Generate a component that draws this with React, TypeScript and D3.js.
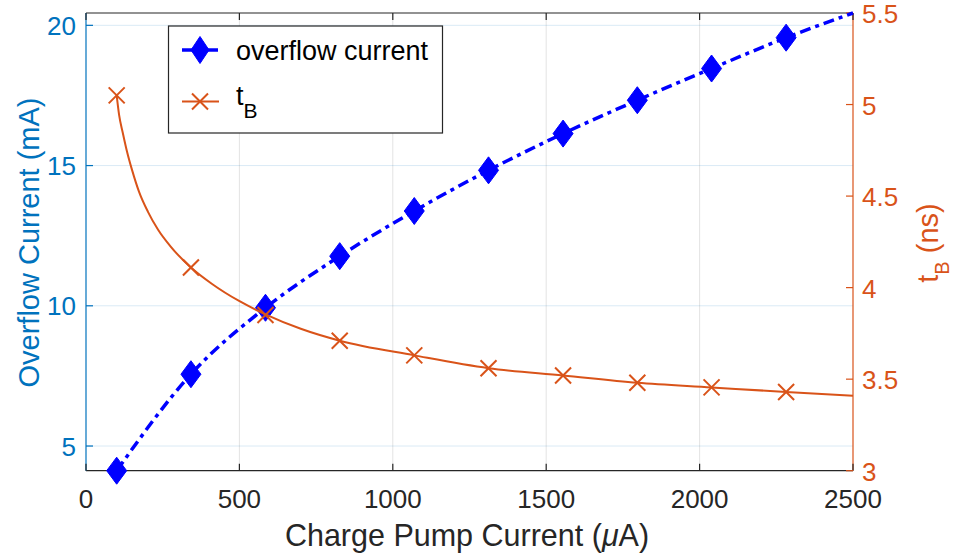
import React from "react";
import * as d3 from "d3";

// ---- data ----
const xTicks = [0, 500, 1000, 1500, 2000, 2500];
const leftTicks = [5, 10, 15, 20];
const rightTicks = [3, 3.5, 4, 4.5, 5, 5.5];
const xDomain = [0, 2500];
const leftDomain = [4.12, 20.44];
const rightDomain = [3, 5.5];

// marker positions (charge pump current, uA)
const markerCurrent = [100, 342, 585, 827, 1070, 1312, 1555, 1797, 2039, 2282];
// overflow current (mA) at markers
const overflowMarkers = [4.12, 7.56, 9.93, 11.77, 13.38, 14.83, 16.14, 17.33, 18.46, 19.56];
// tB (ns) at markers
const tbMarkers = [5.05, 4.11, 3.85, 3.71, 3.63, 3.56, 3.52, 3.48, 3.455, 3.43];

// smooth curves (include markers and line ends)
const overflowCurveCurrent = [100, 342, 585, 827, 1070, 1312, 1555, 1797, 2039, 2282, 2500];
const overflowCurveValue = [4.12, 7.56, 9.93, 11.77, 13.38, 14.83, 16.14, 17.33, 18.46, 19.56, 20.44];
const tbCurveCurrent = [100, 108, 120, 134, 150, 173, 202, 235, 274, 342, 411, 499, 585, 700, 827, 1070, 1312, 1555, 1797, 2039, 2282, 2500];
const tbCurveValue = [5.05, 4.942, 4.845, 4.741, 4.643, 4.523, 4.414, 4.316, 4.228, 4.11, 4.02, 3.927, 3.854, 3.775, 3.71, 3.63, 3.56, 3.52, 3.48, 3.455, 3.43, 3.41];

const BLUE_AXIS = "#0072BD";
const ORANGE = "#D95319";
const LINE_BLUE = "#0000FF";
const DARK = "#262626";
const FONT = "'Liberation Sans', Arial, Helvetica, sans-serif";

const W = 953;
const H = 559;
const L = 86;
const R = 853;
const T = 13;
const B = 470.7;

export default function App() {
  const x = d3.scaleLinear().domain(xDomain).range([L, R]);
  const yL = d3.scaleLinear().domain(leftDomain).range([B, T]);
  const yR = d3.scaleLinear().domain(rightDomain).range([B, T]);

  const blueLine = d3
    .line<number>()
    .x((_, i) => x(overflowCurveCurrent[i]))
    .y((d) => yL(d))
    .curve(d3.curveMonotoneX);
  const orangeLine = d3
    .line<number>()
    .x((_, i) => x(tbCurveCurrent[i]))
    .y((d) => yR(d))
    .curve(d3.curveMonotoneX);

  const diamond = (cx: number, cy: number, hw = 10, hh = 13.5) =>
    `M${cx},${cy - hh}L${cx + hw},${cy}L${cx},${cy + hh}L${cx - hw},${cy}Z`;
  const cross = (cx: number, cy: number, s = 8) =>
    `M${cx - s},${cy - s}L${cx + s},${cy + s}M${cx - s},${cy + s}L${cx + s},${cy - s}`;

  const tick = 7;

  return (
    <svg
      width={W}
      height={H}
      style={{ position: "absolute", left: 0, top: 0, background: "#fff" }}
      fontFamily={FONT}
    >
      <rect x={0} y={0} width={W} height={H} fill="#fff" />
      {/* grid */}
      {xTicks
        .filter((v) => v > xDomain[0] && v < xDomain[1])
        .map((v) => (
          <line key={"gx" + v} x1={x(v)} x2={x(v)} y1={T} y2={B} stroke={DARK} strokeOpacity={0.13} strokeWidth={1} />
        ))}
      {leftTicks.map((v) => (
        <line key={"gy" + v} x1={L} x2={R} y1={yL(v)} y2={yL(v)} stroke={BLUE_AXIS} strokeOpacity={0.15} strokeWidth={1} />
      ))}

      {/* axes box */}
      <line x1={L} x2={R} y1={T} y2={T} stroke={DARK} strokeWidth={1.2} />
      <line x1={L} x2={R} y1={B} y2={B} stroke={DARK} strokeWidth={1.2} />
      <line x1={L} x2={L} y1={T} y2={B} stroke={BLUE_AXIS} strokeWidth={1.2} />
      <line x1={R} x2={R} y1={T} y2={B} stroke={ORANGE} strokeWidth={1.2} />

      {/* x ticks */}
      {xTicks.map((v) => (
        <g key={"xt" + v}>
          <line x1={x(v)} x2={x(v)} y1={B} y2={B - tick} stroke={DARK} strokeWidth={1.2} />
          <line x1={x(v)} x2={x(v)} y1={T} y2={T + tick} stroke={DARK} strokeWidth={1.2} />
          <text x={x(v)} y={508} textAnchor="middle" fontSize={26} fill={DARK}>
            {v}
          </text>
        </g>
      ))}
      {/* left ticks */}
      {leftTicks.map((v) => (
        <g key={"lt" + v}>
          <line x1={L} x2={L + tick} y1={yL(v)} y2={yL(v)} stroke={BLUE_AXIS} strokeWidth={1.2} />
          <text x={76} y={yL(v) + 9.5} textAnchor="end" fontSize={26} fill={BLUE_AXIS}>
            {v}
          </text>
        </g>
      ))}
      {/* right ticks */}
      {rightTicks.map((v) => (
        <g key={"rt" + v}>
          <line x1={R} x2={R - tick} y1={yR(v)} y2={yR(v)} stroke={ORANGE} strokeWidth={1.2} />
          <text x={862} y={yR(v) + 10} textAnchor="start" fontSize={26} fill={ORANGE}>
            {v}
          </text>
        </g>
      ))}

      {/* axis labels */}
      <text x={467} y={546} textAnchor="middle" fontSize={30.5} fill={DARK}>
        Charge Pump Current (<tspan fontStyle="italic">μ</tspan>A)
      </text>
      <text transform="translate(39,242.5) rotate(-90)" textAnchor="middle" fontSize={29} fill={BLUE_AXIS}>
        Overflow Current (mA)
      </text>
      <text transform="translate(938,243) rotate(-90)" textAnchor="middle" fontSize={29} fill={ORANGE}>
        <tspan>t</tspan>
        <tspan fontSize={20} dy={11}>B</tspan>
        <tspan dy={-11}> (ns)</tspan>
      </text>

      {/* overflow current series */}
      <path
        d={blueLine(overflowCurveValue) || ""}
        fill="none"
        stroke={LINE_BLUE}
        strokeWidth={3.5}
        strokeDasharray="11 5 4 5"
      />
      {markerCurrent.map((c, i) => (
        <path key={"d" + i} d={diamond(x(c), yL(overflowMarkers[i]))} fill={LINE_BLUE} stroke={LINE_BLUE} strokeWidth={1} />
      ))}

      {/* tB series */}
      <path d={orangeLine(tbCurveValue) || ""} fill="none" stroke={ORANGE} strokeWidth={2} />
      {markerCurrent.map((c, i) => (
        <path key={"x" + i} d={cross(x(c), yR(tbMarkers[i]))} fill="none" stroke={ORANGE} strokeWidth={2} />
      ))}

      {/* legend */}
      <rect x={168.5} y={26} width={274} height={107} fill="#fff" stroke={DARK} strokeWidth={1.2} />
      <line x1={182} x2={219} y1={50} y2={50} stroke={LINE_BLUE} strokeWidth={3.5} strokeDasharray="11 5 4 5" />
      <path d={diamond(200, 50, 9, 13.5)} fill={LINE_BLUE} stroke={LINE_BLUE} strokeWidth={1} />
      <text x={236} y={60} fontSize={27} fill="#000">
        overflow current
      </text>
      <line x1={182} x2={219} y1={101.5} y2={101.5} stroke={ORANGE} strokeWidth={2} />
      <path d={cross(200, 101.5, 8)} fill="none" stroke={ORANGE} strokeWidth={2} />
      <text x={236} y={105} fontSize={27} fill="#000">
        <tspan>t</tspan>
        <tspan fontSize={21} dy={13}>B</tspan>
      </text>
    </svg>
  );
}
